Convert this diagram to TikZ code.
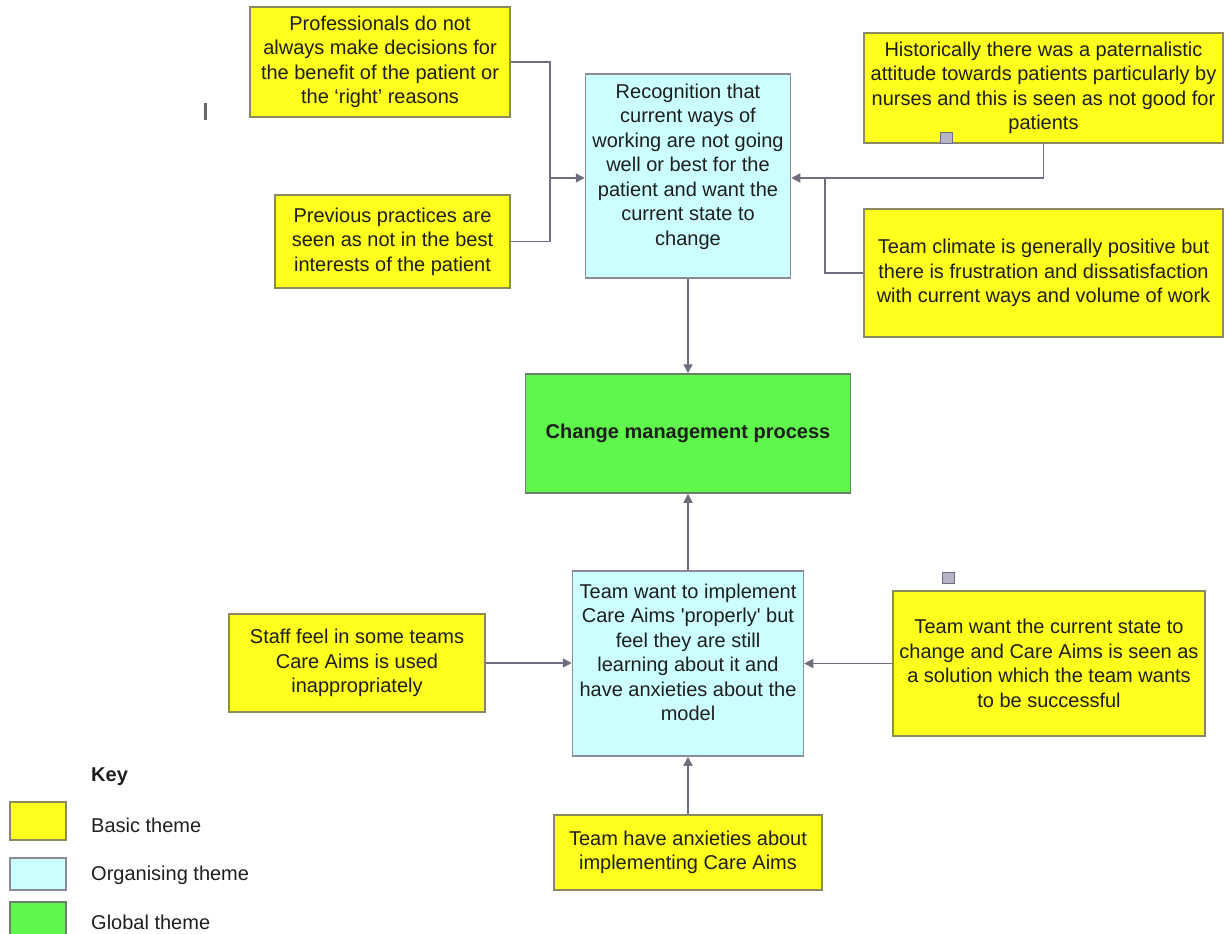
\documentclass[tikz,border=0pt]{standalone}
\usepackage{fontspec}
\setmainfont{Liberation Sans}
\usetikzlibrary{arrows.meta}

\definecolor{basicfill}{HTML}{FFFF1E}
\definecolor{basicline}{HTML}{8A8A5C}
\definecolor{orgfill}{HTML}{CCFFFF}
\definecolor{orgline}{HTML}{8A8A9A}
\definecolor{globalfill}{HTML}{5FF74B}
\definecolor{globalline}{HTML}{6E7E6E}
\definecolor{linkgray}{HTML}{6E6E80}
\definecolor{inkdark}{HTML}{1E1E1E}
\definecolor{handlefill}{HTML}{B4B4C4}

\tikzset{
  theme/.style={draw, line width=1.5pt, align=center, text=inkdark,
    font=\fontsize{20}{24.5}\selectfont, inner sep=0pt},
  basicbox/.style={theme, fill=basicfill, draw=basicline},
  orgbox/.style={theme, fill=orgfill, draw=orgline},
  globalbox/.style={theme, fill=globalfill, draw=globalline},
  link/.style={draw=linkgray, line width=1.6pt},
  linkarrow/.style={link, -{Triangle[length=9pt,width=9pt]}},
  handle/.style={draw=linkgray, fill=handlefill, line width=1pt,
    minimum width=12pt, minimum height=11pt, inner sep=0pt},
  keytext/.style={anchor=west, text=inkdark, inner sep=0pt,
    font=\fontsize{20}{24.5}\selectfont},
}

\begin{document}
\begin{tikzpicture}[x=1pt,y=-1pt]
	\useasboundingbox (0,0) rectangle (1229,934);
	\clip (0,0) rectangle (1229,934);
	
	% upper branch
	\node[basicbox, minimum width=260pt, minimum height=110pt] (prof) at (380,62)
	  {Professionals do not\\always make decisions for\\the benefit of the patient or\\the ‘right’ reasons};
	\node[basicbox, minimum width=235pt, minimum height=93pt] (prev) at (392.5,241.5)
	  {Previous practices are\\seen as not in the best\\interests of the patient};
	\node[orgbox, minimum width=205pt, minimum height=204pt] (recog) at (688,176)
	  {Recognition that\\current ways of\\working are not going\\well or best for the\\patient and want the\\current state to\\change\\[-2pt]\mbox{}};
	\node[basicbox, minimum width=359pt, minimum height=110pt] (hist) at (1043.5,88)
	  {Historically there was a paternalistic\\attitude towards patients particularly by\\nurses and this is seen as not good for\\patients};
	\node[basicbox, minimum width=359pt, minimum height=128pt] (climate) at (1043.5,273)
	  {Team climate is generally positive but\\there is frustration and dissatisfaction\\with current ways and volume of work};
	
	% global theme
	\node[globalbox, minimum width=325pt, minimum height=119pt] (change) at (688,433.5)
	  {\textbf{Change management process}};
	
	% lower branch
	\node[orgbox, minimum width=231pt, minimum height=185pt] (implement) at (688,663.5)
	  {Team want to implement\\Care Aims \textquotesingle properly\textquotesingle{} but\\feel they are still\\learning about it and\\have anxieties about the\\model\\[-2pt]\mbox{}};
	\node[basicbox, minimum width=256pt, minimum height=98pt] (staff) at (357,663)
	  {Staff feel in some teams\\Care Aims is used\\inappropriately};
	\node[basicbox, minimum width=312pt, minimum height=145pt] (solution) at (1049,663.5)
	  {Team want the current state to\\change and Care Aims is seen as\\a solution which the team wants\\to be successful};
	\node[basicbox, minimum width=268pt, minimum height=75pt] (anx) at (688,852.5)
	  {Team have anxieties about\\implementing Care Aims};
	
	% handles and cursor mark
	\node[handle] (hdlA) at (946.5,137.5) {};
	\node[handle] (hdlB) at (948,578) {};
	\fill[black!60] (204,103) rectangle (207,120);
	
	% joins
	\coordinate (joinL) at (550,178);
	\coordinate (joinR) at (825,178);
	
	\path[link] (prof.east) -| (joinL);
	\path[link] (prev.east) -| (joinL);
	\path[linkarrow] (joinL) -- (joinL -| recog.west);
	\path[linkarrow] (hist.south) |- (joinR -| recog.east);
	\path[link] (climate.west) -| (joinR);
	\path[linkarrow] (recog.south) -- (change.north);
	\path[linkarrow] (implement.north) -- (change.south);
	\path[linkarrow] (staff.east) -- (staff.east -| implement.west);
	\path[linkarrow] (solution.west) -- (solution.west -| implement.east);
	\path[linkarrow] (anx.north) -- (implement.south);
	
	% key
	\node[keytext] (keyhead) at (91,777) {\textbf{Key}};
	\node[basicbox, minimum width=56pt, minimum height=38pt] (keyBasic) at (38,821) {};
	\node[orgbox, minimum width=56pt, minimum height=32pt] (keyOrg) at (38,874) {};
	\node[globalbox, minimum width=56pt, minimum height=40pt] (keyGlobal) at (38,922) {};
	\node[keytext] (lblBasic) at (91,825) {Basic theme};
	\node[keytext] (lblOrg) at (91,875) {Organising theme};
	\node[keytext] (lblGlobal) at (91,922) {Global theme};
	
\end{tikzpicture}
\end{document}
